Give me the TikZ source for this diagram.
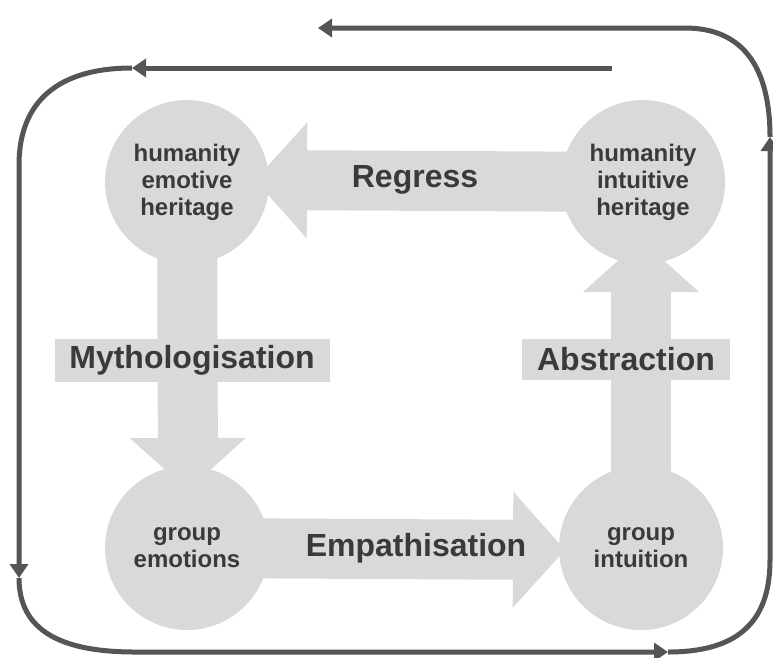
\documentclass[tikz,border=0pt]{standalone}
\usepackage{fontspec}
\setmainfont{Liberation Sans}
\usetikzlibrary{arrows.meta}
\definecolor{shade}{HTML}{D9D9D9}
\definecolor{ink}{HTML}{3A3A3A}
\definecolor{loopline}{HTML}{555555}

\begin{document}
\begin{tikzpicture}[x=1pt,y=-1pt,
  stage/.style={circle, fill=shade, minimum size=164pt, inner sep=0pt,
    align=center, text=ink, font=\fontsize{24}{27}\selectfont\bfseries},
  flow/.style={draw=shade, line width=60pt,
    -{Triangle[length=52pt,width=116pt,line width=0pt]}},
  tag/.style={fill=shade, text=ink, inner sep=0pt,
    font=\fontsize{32}{36}\selectfont\bfseries},
  word/.style={text=ink, inner sep=0pt,
    font=\fontsize{32}{36}\selectfont\bfseries},
  orbit/.style={draw=loopline, line width=5pt,
    -{Triangle[length=14pt,width=18pt]}}]

% canvas
\fill[white] (0,0) rectangle (773,657);
\useasboundingbox (0,0) rectangle (773,657);

% stage positions
\coordinate (pTL) at (187,182);
\coordinate (pTR) at (643,182);
\coordinate (pBL) at (187,548);
\coordinate (pBR) at (641,548);

% ends of the block arrows
\coordinate (regTip) at (255,180);
\coordinate (mytTip) at (188,490);
\coordinate (empTip) at (565,550);
\coordinate (absTip) at (641,240);

% block arrows (drawn first, the stages cover their roots)
\draw[flow] (pTR) -- (regTip);
\draw[flow] (pTL) -- (mytTip);
\draw[flow] (pBL) -- (empTip);
\draw[flow] (pBR) -- (absTip);

% stages
\node[stage] (tl) at (pTL) {humanity\\emotive\\heritage};
\node[stage] (tr) at (pTR) {humanity\\intuitive\\heritage};
\node[stage] (bl) at (pBL) {group\\emotions};
\node[stage] (br) at (pBR) {group\\intuition};

% process labels
\node[word] (reg) at (415,180) {Regress};
\node[tag, minimum width=275pt, minimum height=43pt] (myt) at (192,360) {Mythologisation};
\node[word] (emp) at (416,548) {Empathisation};
\node[tag, minimum width=208pt, minimum height=41pt] (abs) at (626,359) {Abstraction};

% outer cycle
\coordinate (cycStart) at (612,68);
\coordinate (cycEnd) at (318,28);
\coordinate (cA) at (132,68);
\coordinate (cB) at (19,578);
\coordinate (cC) at (668,652);
\coordinate (cD) at (770,137);
\draw[orbit] (cycStart) -- (cA);
\draw[orbit] (cA) .. controls (60,68) and (19,100) .. (19,165) -- (cB);
\draw[orbit] (cB) .. controls (19,630) and (60,652) .. (135,652) -- (cC);
\draw[orbit] (cC) .. controls (740,652) and (770,620) .. (770,560) -- (cD);
\draw[orbit] (cD) .. controls (770,70) and (745,28) .. (685,28) -- (cycEnd);
\end{tikzpicture}
\end{document}
